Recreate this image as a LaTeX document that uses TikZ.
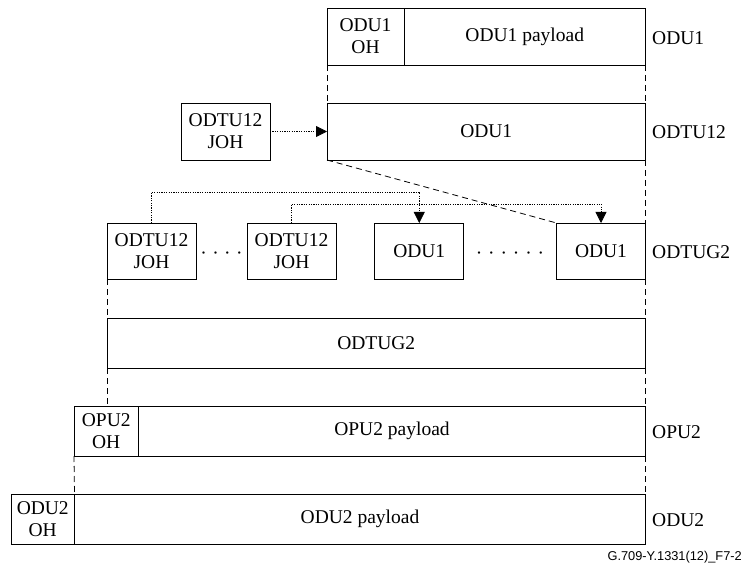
\documentclass[tikz,border=0pt]{standalone}
\usepackage{fontspec}
\setmainfont{Liberation Serif}
\newfontfamily\capfont{Liberation Sans}
\usetikzlibrary{arrows.meta}
\begin{document}
\begin{tikzpicture}[x=1pt,y=-1pt,
  box/.style={draw, line width=0.8pt, inner sep=0pt, outer sep=0pt, align=center,
    font=\fontsize{19.5}{22}\selectfont},
  lbl/.style={anchor=west, inner sep=0pt, font=\fontsize{19.5}{22}\selectfont},
  dotsnode/.style={inner sep=0pt, font=\fontsize{19.5}{22}\selectfont},
  dashline/.style={line width=0.8pt, dash pattern=on 6pt off 4pt},
  dotline/.style={line width=0.8pt, dash pattern=on 1.2pt off 1.2pt},
  tip/.style={-{Triangle[length=11pt,width=11pt]}}
]
\useasboundingbox (0,0) rectangle (745,567);

% ODU1 row
\node[box, minimum width=77pt, minimum height=57pt] (odu1oh) at (365.5,36.5) {ODU1\\OH};
\node[box, minimum width=241.5pt, minimum height=57pt] (odu1pl) at (524.75,36.5) {ODU1 payload};
\node[lbl] (l1) at (652,38) {ODU1};

% ODTU12 row
\node[box, minimum width=318.5pt, minimum height=57pt] (odtu12) at (486.25,131.5) {ODU1};
\node[box, minimum width=89pt, minimum height=57pt] (joh0) at (225.5,131.5) {ODTU12\\JOH};
\node[lbl] (l2) at (652,132.5) {ODTU12};

% ODTUG2 row of boxes
\node[box, minimum width=89pt, minimum height=56pt] (joh1) at (151.5,251) {ODTU12\\JOH};
\node[box, minimum width=89pt, minimum height=56pt] (joh2) at (291.5,251) {ODTU12\\JOH};
\node[box, minimum width=89pt, minimum height=56pt] (odu1a) at (419.25,251) {ODU1};
\node[box, minimum width=89pt, minimum height=56pt] (odu1b) at (601,251) {ODU1};
\node[dotsnode] (d1) at (221.5,256) {·\hspace{5.4pt}·\hspace{5.4pt}·\hspace{5.4pt}·};
\node[dotsnode] (d2) at (510,256) {·\hspace{5.9pt}·\hspace{5.9pt}·\hspace{5.9pt}·\hspace{5.9pt}·\hspace{5.9pt}·};
\node[lbl] (l3) at (652,252) {ODTUG2};

% ODTUG2
\node[box, minimum width=538.5pt, minimum height=50pt] (odtug2) at (376.25,343) {ODTUG2};

% OPU2
\node[box, minimum width=64.5pt, minimum height=50pt] (opu2oh) at (106.25,431) {OPU2\\OH};
\node[box, minimum width=507pt, minimum height=50pt] (opu2pl) at (392,431) {OPU2 payload};
\node[lbl] (l4) at (652,432) {OPU2};

% ODU2
\node[box, minimum width=63.5pt, minimum height=50pt] (odu2oh) at (42.75,519) {ODU2\\OH};
\node[box, minimum width=571pt, minimum height=50pt] (odu2pl) at (360,519) {ODU2 payload};
\node[lbl] (l5) at (652,520) {ODU2};

% caption
\node[anchor=east, inner sep=0pt, font=\capfont\fontsize{12.8}{14}\selectfont] (cap) at (742,557)
  {G.709-Y.1331(12)\_F7-2};

% dashed guides
\draw[dashline] (odu1oh.south west) -- (odtu12.north west);
\draw[dashline] (odu1pl.south east) -- (odtu12.north east);
\draw[dashline] (odtu12.south west) -- (odu1b.north west);
\draw[dashline] (odtu12.south east) -- (odu1b.north east);
\draw[dashline] (joh1.south west) -- (odtug2.north west);
\draw[dashline] (odu1b.south east) -- (odtug2.north east);
\draw[dashline] (odtug2.south west) -- (odtug2.south west |- opu2oh.north);
\draw[dashline] (odtug2.south east) -- (opu2pl.north east);
\draw[dashline] (opu2oh.south west) -- (odu2pl.north west);
\draw[dashline] (opu2pl.south east) -- (odu2pl.north east);

% dotted arrows
\coordinate (h1) at (0,192);
\coordinate (h2) at (0,204);
\draw[dotline, tip] (joh0.east) -- (odtu12.west);
\draw[dotline, tip] (joh1.north) -- (joh1.north |- h1) -| (odu1a.north);
\draw[dotline, tip] (joh2.north) -- (joh2.north |- h2) -| (odu1b.north);
\end{tikzpicture}
\end{document}
